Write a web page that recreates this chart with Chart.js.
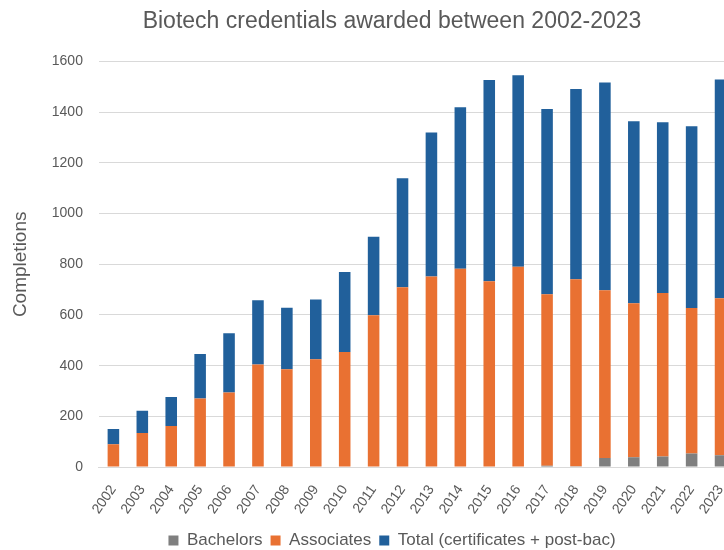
<!DOCTYPE html>
<html>
<head>
<meta charset="utf-8">
<script src="https://cdn.jsdelivr.net/npm/chart.js@4"></script>
<style>
  html, body { margin: 0; padding: 0; background: #ffffff; overflow: hidden; }
  #wrap { position: relative; width: 724px; height: 550px; overflow: hidden; }
  #box { position: absolute; left: 0; top: 0; width: 784px; height: 550px; }
</style>
</head>
<body>
<div id="wrap"><div id="box"><canvas id="c" width="784" height="550"></canvas></div></div>
<script>
const years = ["2002","2003","2004","2005","2006","2007","2008","2009","2010","2011","2012","2013","2014","2015","2016","2017","2018","2019","2020","2021","2022","2023"];
const bachelors = [0,0,0,0,0,0,0,0,0,0,0,0,0,0,0,5,3,36,38,41,53,46];
const associates = [90,134,162,270,294,405,386,425,454,599,709,752,782,733,790,677,738,662,608,646,575,620];
const certificatesPostBac = [60,88,114,176,234,253,243,236,316,310,431,568,638,794,756,731,751,820,719,674,717,863];
const yTicks = [0,200,400,600,800,1000,1200,1400,1600];

const seriesNames = ["Bachelors","Associates","Total (certificates + post-bac)"];
const seriesColors = ["#7F7F7F","#E97132","#21609B"];
const textColor = "#595959";
const fontFamily = "'Liberation Sans', Arial, sans-serif";

// Centre title and legend across the full (uncropped) chart width, as in the original figure.
const centerBlocks = {
  id: "centerBlocks",
  beforeDraw(chart) {
    const w = chart.width;
    if (chart.titleBlock) { chart.titleBlock.left = 0; chart.titleBlock.right = w; }
    if (chart.legend) { chart.legend.left = 0; chart.legend.right = w; }
  }
};

new Chart(document.getElementById("c"), {
  type: "bar",
  data: {
    labels: years,
    datasets: [
      { label: seriesNames[0], data: bachelors, backgroundColor: seriesColors[0] },
      { label: seriesNames[1], data: associates, backgroundColor: seriesColors[1] },
      { label: seriesNames[2], data: certificatesPostBac, backgroundColor: seriesColors[2] }
    ]
  },
  plugins: [centerBlocks],
  options: {
    responsive: false,
    animation: false,
    devicePixelRatio: 1,
    layout: { padding: { left: 5, right: 49, top: 0, bottom: -9 } },
    datasets: { bar: { categoryPercentage: 1.0, barPercentage: 0.4, borderWidth: 0 } },
    plugins: {
      title: {
        display: true,
        text: "Biotech credentials awarded between 2002-2023",
        color: textColor,
        font: { family: fontFamily, size: 23, weight: "normal" },
        padding: { top: 8, bottom: 26 }
      },
      legend: {
        position: "bottom",
        labels: {
          color: textColor,
          font: { family: fontFamily, size: 17 },
          boxWidth: 10,
          boxHeight: 10,
          padding: 8
        }
      },
      tooltip: { enabled: false }
    },
    scales: {
      x: {
        stacked: true,
        grid: { display: false, drawTicks: false },
        border: { display: true, color: "#D9D9D9", width: 1 },
        ticks: {
          color: textColor,
          font: { family: fontFamily, size: 14 },
          minRotation: 55,
          maxRotation: 55,
          padding: 15,
          autoSkip: false
        },
        afterFit: (scale) => { scale.height = 57; }
      },
      y: {
        stacked: true,
        min: 0,
        max: 1600,
        afterBuildTicks: (axis) => { axis.ticks = yTicks.map(v => ({ value: v })); },
        grid: { color: "#D9D9D9", lineWidth: 1, drawTicks: false },
        border: { display: false },
        ticks: {
          color: textColor,
          font: { family: fontFamily, size: 14 },
          padding: 16,
          callback: (v) => String(v)
        },
        title: {
          display: true,
          text: "Completions",
          color: textColor,
          font: { family: fontFamily, size: 19 },
          padding: { top: 4, bottom: 4 }
        }
      }
    }
  }
});
</script>
</body>
</html>
